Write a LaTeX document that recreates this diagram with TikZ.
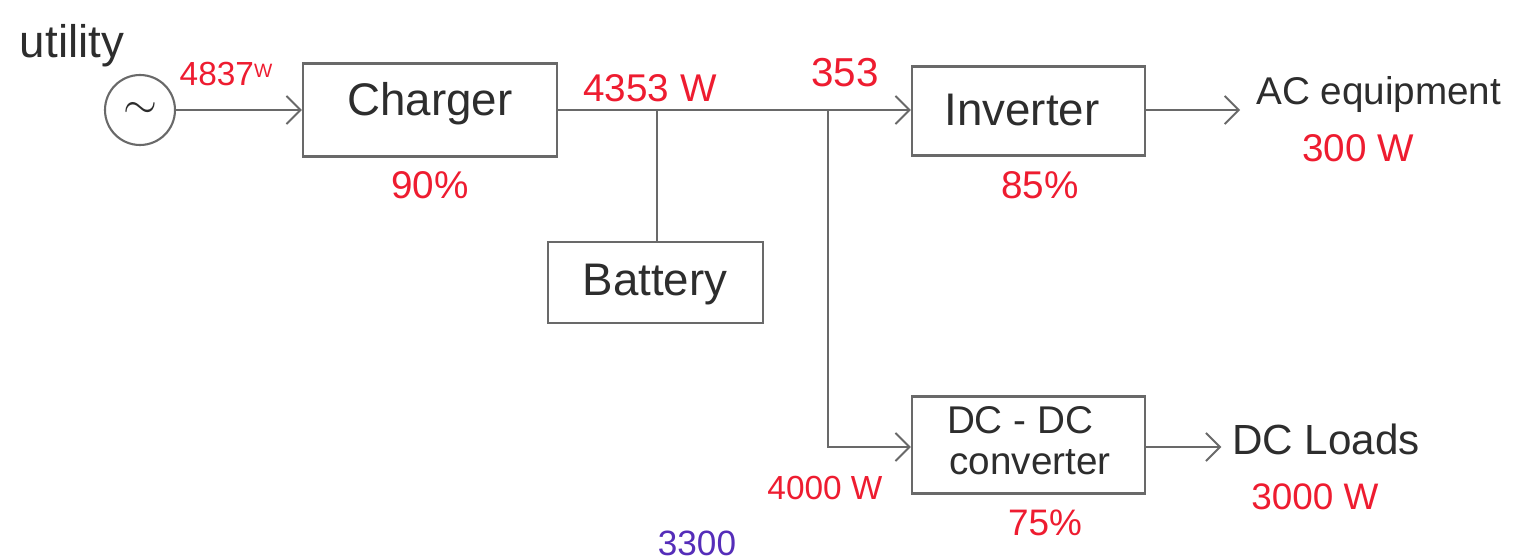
\documentclass[tikz,border=0pt]{standalone}
\usepackage{fontspec}
\setmainfont{Liberation Sans}
\usetikzlibrary{arrows.meta}
\definecolor{pen}{RGB}{105,105,105}
\definecolor{ink}{RGB}{45,45,45}
\definecolor{redink}{RGB}{238,28,48}
\definecolor{blueink}{RGB}{85,45,185}
\tikzset{
  blk/.style={draw=pen, line width=1.3pt, rectangle, inner sep=0pt},
  wire/.style={draw=pen, line width=1.1pt},
  arr/.style={wire, -{Straight Barb[length=8pt,width=16pt,line width=1.1pt]}},
  lbl/.style={text=ink, inner sep=0pt, font=\fontsize{24}{28}\selectfont},
  val/.style={text=redink, inner sep=0pt, font=\fontsize{20}{24}\selectfont},
}
\begin{document}
\begin{tikzpicture}[x=0.02cm,y=-0.02cm]
\useasboundingbox[fill=white] (0,0) rectangle (1529,560);

% source
\node[draw=pen, line width=1.2pt, circle, minimum size=1.4cm, inner sep=0pt, text=ink, font=\fontsize{30}{30}\selectfont] (src) at (140,110) {$\sim$};
\node[lbl, font=\fontsize{26}{30}\selectfont] (util) at (72,46) {utility};

% blocks
\node[blk, minimum width=5.08cm, minimum height=1.86cm] (chg) at (430,110) {};
\node[lbl, font=\fontsize{26}{30}\selectfont] (chgt) at (430,104) {Charger};
\node[blk, minimum width=4.3cm, minimum height=1.62cm] (bat) at (655.5,282.5) {};
\node[lbl, font=\fontsize{26}{30}\selectfont] (batt) at (655,285) {Battery};
\node[blk, minimum width=4.66cm, minimum height=1.78cm] (inv) at (1028.5,111) {};
\node[lbl, font=\fontsize{26}{30}\selectfont] (invt) at (1022,110) {Inverter};
\node[blk, minimum width=4.66cm, minimum height=1.94cm] (dcc) at (1028.5,445) {};
\node[lbl, font=\fontsize{22}{26}\selectfont] (dcct1) at (1020,420) {DC - DC};
\node[lbl, font=\fontsize{22}{26}\selectfont] (dcct2) at (1030,462) {converter};

% outputs
\node[lbl, font=\fontsize{22}{26}\selectfont, anchor=west] (ac) at (1256,95) {AC equipment};
\node[lbl, font=\fontsize{24}{28}\selectfont, anchor=west] (dcl) at (1232,439) {DC Loads};

% junctions
\coordinate (j1) at (657,110);
\coordinate (j2) at (828,110);

% connectors
\draw[arr] (src.east) -- (chg.west |- src.east);
\draw[wire] (chg.east |- j1) -- (j1) -- (j2);
\draw[arr] (j2) -- (inv.west |- j2);
\draw[wire] (j1) -- (bat.north -| j1);
\draw[arr] (j2) |- (dcc.west |- 0,447);
\draw[arr] (inv.east |- j2) -- ([xshift=-9pt]ac.west |- j2);
\draw[arr] (dcc.east |- 0,447) -- ([xshift=-6pt]dcl.west |- 0,447);

% values
\node[val, font=\fontsize{19}{22}\selectfont] (v1) at (226,74) {4837\raisebox{0.45ex}{\fontsize{11}{11}\selectfont W}};
\node[val, font=\fontsize{22}{26}\selectfont] (v2) at (430,185) {90\%};
\node[val, font=\fontsize{22}{26}\selectfont] (v3) at (650,88) {4353 W};
\node[val, font=\fontsize{23}{26}\selectfont] (v4) at (845,73) {353};
\node[val, font=\fontsize{22}{26}\selectfont] (v5) at (1040,185) {85\%};
\node[val, font=\fontsize{22}{26}\selectfont] (v6) at (1358,148) {300 W};
\node[val, font=\fontsize{19}{22}\selectfont] (v7) at (825,488) {4000 W};
\node[val, font=\fontsize{21}{24}\selectfont] (v8) at (1045,523) {75\%};
\node[val, font=\fontsize{21}{24}\selectfont] (v9) at (1315,497) {3000 W};
\node[text=blueink, inner sep=0pt, font=\fontsize{20}{24}\selectfont] (v10) at (697,543) {3300};
\end{tikzpicture}
\end{document}
